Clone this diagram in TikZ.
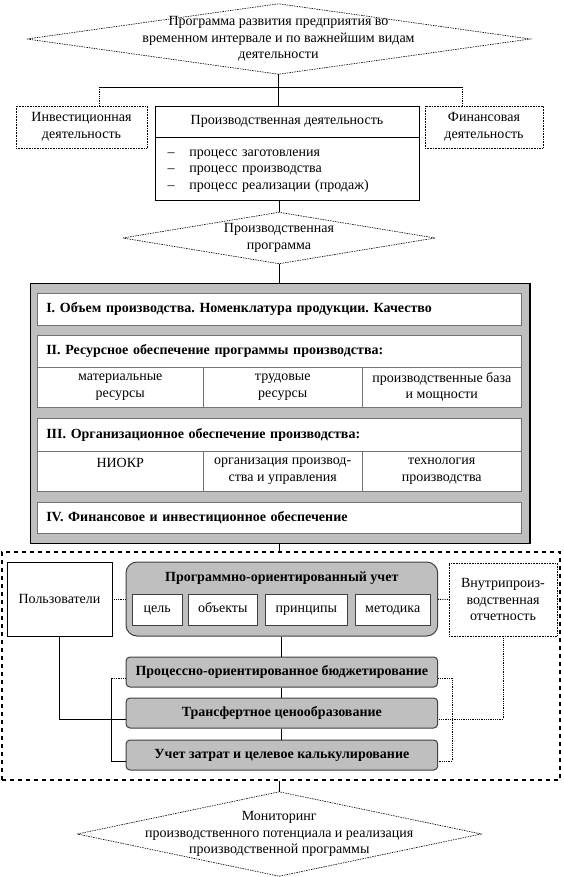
\documentclass[tikz,border=0pt]{standalone}
\usepackage{fontspec}
\setmainfont{Liberation Serif}
\usepackage{tikz}
\usetikzlibrary{positioning}
\frenchspacing

\begin{document}
\begin{tikzpicture}[x=1pt, y=-1pt,
    every node/.style={font=\fontsize{14}{16.5}\selectfont, inner sep=0pt},
    diabox/.style={align=center},
    diaedge/.style={draw=black, line width=0.6pt, dash pattern=on 1.5pt off 1pt},
    dotbox/.style={draw=black, line width=0.6pt, densely dotted, fill=white, align=center},
    linebox/.style={draw=black, line width=0.8pt, fill=white, align=center},
    planbox/.style={draw=black, line width=1pt, fill=gray!50},
    rowbox/.style={draw=black!55, line width=1pt, fill=white, minimum height=#1, text width=466pt, inner xsep=9pt, align=left, font=\fontsize{14}{16.5}\selectfont\bfseries},
    cellbox/.style={draw=black!55, line width=0.6pt, fill=white, minimum height=40pt, align=center},
    framebox/.style={draw=black, line width=1.2pt, dash pattern=on 4pt off 4pt},
    groupbox/.style={draw=black!75, line width=1pt, fill=gray!50, rounded corners=11pt},
    tagbox/.style={draw=black!75, line width=1pt, fill=white, minimum height=31pt, text height=10pt, text depth=3.5pt},
    bar/.style={draw=black!75, line width=1pt, fill=gray!50, rounded corners=4pt, minimum width=311.7pt, minimum height=30pt, text height=10pt, text depth=3.5pt, font=\fontsize{14}{16.5}\selectfont\bfseries},
    spine/.style={draw=black, line width=0.8pt},
    dotline/.style={draw=black, line width=0.8pt, densely dotted}]
    \useasboundingbox (0,0) rectangle (563,877);

    % Programme of the enterprise
    \node[diabox, minimum width=503pt, minimum height=70pt] (goal) at (278.5,39) {Программа развития предприятия во\\временном интервале и по важнейшим видам\\деятельности};
    \draw[diaedge] (goal.west) -- (goal.north) -- (goal.east) -- (goal.south) -- cycle;

    % Kinds of activity
    \node[dotbox, minimum width=131pt, minimum height=42pt] (invest) at (81.5,127) {Инвестиционная\\деятельность};
    \node[linebox, minimum width=264pt, minimum height=31pt] (prodhead) at (287,121.5) {Производственная деятельность};
    \node[linebox, minimum width=264pt, minimum height=63pt, text width=239pt, inner xsep=12.5pt, align=left, below=0pt of prodhead] (prodlist) {\begin{tabular}{@{}l@{\hspace{15pt}}l@{}}–&процесс заготовления\\–&процесс производства\\–&процесс реализации (продаж)\end{tabular}};
    \node[dotbox, minimum width=118pt, minimum height=42pt] (finance) at (484,127) {Финансовая\\деятельность};

    % Production programme
    \node[diabox, minimum width=312pt, minimum height=51pt] (prodprog) at (279,238) {Производственная\\программа};
    \draw[diaedge] (prodprog.west) -- (prodprog.north) -- (prodprog.east) -- (prodprog.south) -- cycle;

    % Sections of the programme
    \node[planbox, minimum width=499pt, minimum height=260pt] (plan) at (280,413) {};
    \draw[line width=1.6pt] (plan.north east) -- (plan.south east) -- (plan.south west);
    \node[rowbox=32pt] (volume) at (279.3,309) {I. Объем производства. Номенклатура продукции. Качество};
    \node[rowbox=32pt] (resource) at (279.3,351) {II. Ресурсное обеспечение программы производства:};
    \node[cellbox, minimum width=166.5pt] (res1) at (120.25,387) {материальные\\ресурсы};
    \node[cellbox, minimum width=158.5pt] (res2) at (282.75,387) {трудовые\\ресурсы};
    \node[cellbox, minimum width=159.6pt] (res3) at (441.8,387) {производственные база\\и мощности};
    \node[rowbox=33pt] (orgsup) at (279.3,434.5) {III. Организационное обеспечение производства:};
    \node[cellbox, minimum width=166.5pt] (org1) at (120.25,471) {НИОКР\\\phantom{Н}};
    \node[cellbox, minimum width=158.5pt] (org2) at (282.75,471) {организация производ-\\ства и управления};
    \node[cellbox, minimum width=159.6pt] (org3) at (441.8,471) {технология\\производства};
    \node[rowbox=31pt] (fund) at (279.3,517.5) {IV. Финансовое и инвестиционное обеспечение};

    % Accounting area
    \node[framebox, minimum width=558pt, minimum height=228pt] (frame) at (281,666) {};
    \node[linebox, minimum width=105pt, minimum height=74pt] (users) at (59.5,599) {Пользователи};
    \node[groupbox, minimum width=311.7pt, minimum height=74pt] (poa) at (281.85,599) {};
    \node[font=\fontsize{14}{16.5}\selectfont\bfseries] (poatitle) at (281.85,578) {Программно-ориентированный учет};
    \node[tagbox, minimum width=49.5pt] (aim) at (157.25,609.5) {цель};
    \node[tagbox, minimum width=69.5pt] (objects) at (222.75,609.5) {объекты};
    \node[tagbox, minimum width=82.6pt] (rules) at (306.3,609.5) {принципы};
    \node[tagbox, minimum width=75.5pt] (method) at (392.75,609.5) {методика};
    \node[dotbox, minimum width=108pt, minimum height=73pt] (report) at (503,599.5) {Внутрипроиз-\\водственная\\отчетность};
    \node[bar] (budget) at (281.85,672) {Процессно-ориентированное бюджетирование};
    \node[bar] (transfer) at (281.85,713) {Трансфертное ценообразование};
    \node[bar] (costing) at (281.85,755) {Учет затрат и целевое калькулирование};

    % Monitoring
    \node[diabox, minimum width=403.5pt, minimum height=84pt] (monitor) at (279.25,834) {Мониторинг\\производственного потенциала и реализация\\производственной программы};
    \draw[diaedge] (monitor.west) -- (monitor.north) -- (monitor.east) -- (monitor.south) -- cycle;

    % Connections
    \coordinate (forkL) at (99,87);
    \coordinate (forkR) at (462,87);
    \draw[spine] (goal.south) -- (goal.south |- prodhead.north);
    \draw[spine] (forkL) -- (forkR);
    \draw[dotline] (forkL) -- (forkL |- invest.north);
    \draw[dotline] (forkR) -- (forkR |- finance.north);
    \draw[spine] (prodprog.north |- prodlist.south) -- (prodprog.north);
    \draw[spine] (prodprog.south) -- (prodprog.south |- plan.north);
    \draw[spine] (prodprog.south |- plan.south) -- (prodprog.south |- frame.north);
    \draw[spine] (monitor.north |- frame.south) -- (monitor.north);

    % Links inside the accounting area
    \draw[dotline] (users) -- (poa);
    \draw[dotline] (poa) -- (report);
    \draw[spine] (poa) -- (budget);
    \draw[spine] (budget) -- (transfer);
    \draw[spine] (transfer) -- (costing);
    \draw[spine] (users.south) |- ([yshift=-6pt]transfer.west);
    \draw[dotline] (report.south) |- ([yshift=-6pt]transfer.east);
    \draw[dotline] ([yshift=-6pt]budget.west) -- ++(-14,0) coordinate (brL);
    \draw[spine] (brL) |- ([yshift=-6pt]costing.west);
    \draw[dotline] ([yshift=-6pt]budget.east) -| ([xshift=14pt, yshift=-6pt]costing.east) -- ([yshift=-6pt]costing.east);
\end{tikzpicture}
\end{document}
